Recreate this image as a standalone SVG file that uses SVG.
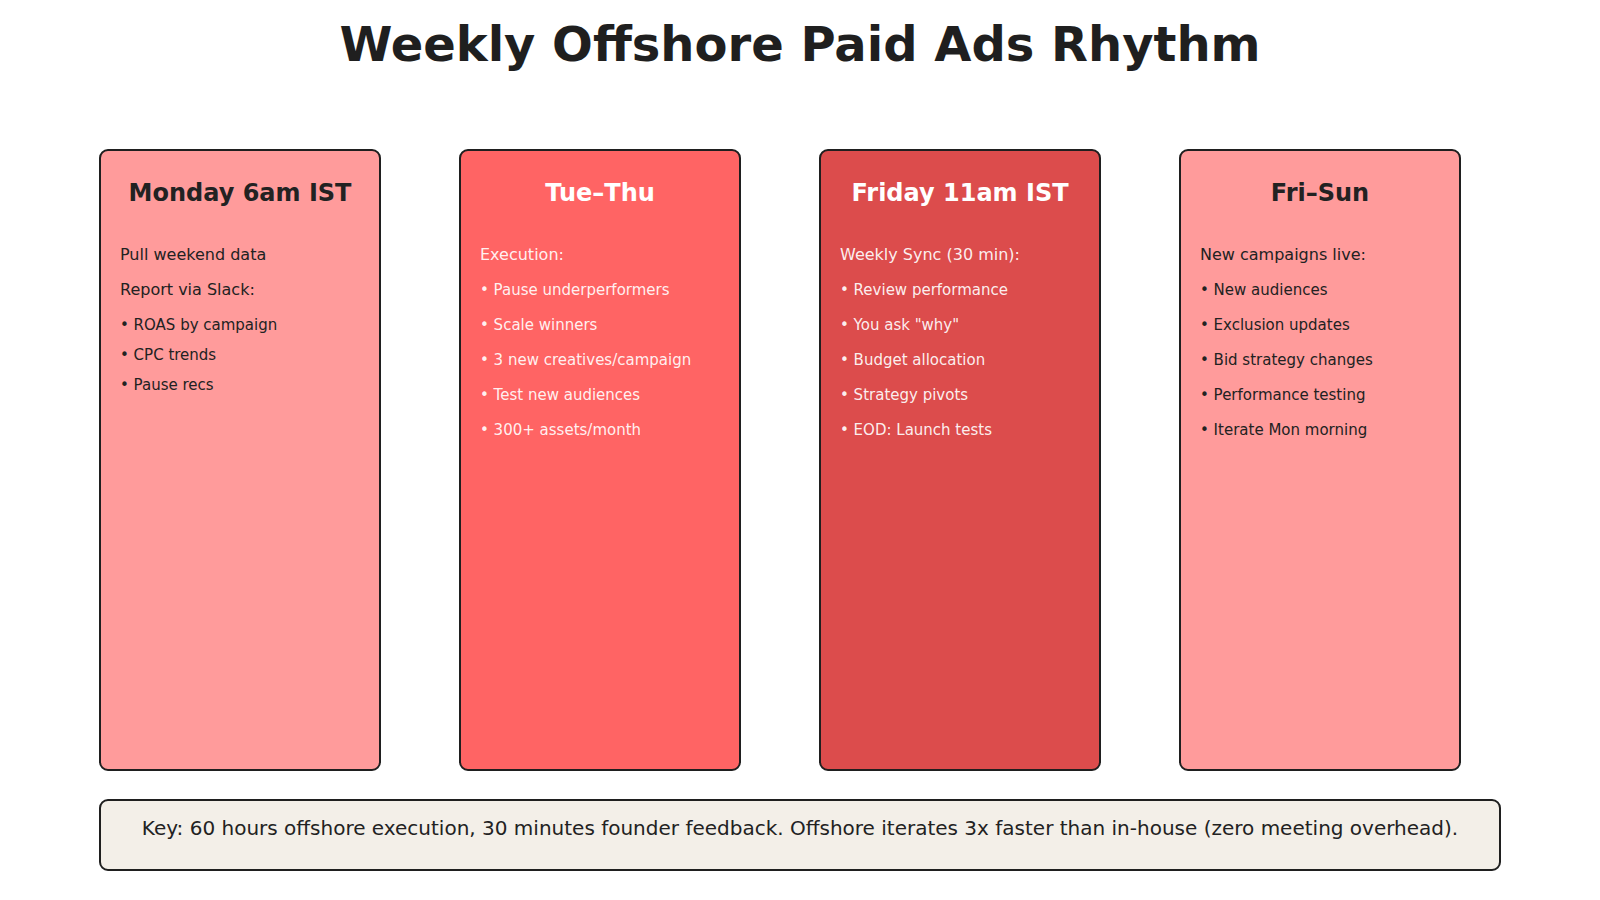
<svg xmlns="http://www.w3.org/2000/svg" width="1600" height="900" viewBox="0 0 1600 900">
<style>
text{font-family:"DejaVu Sans","Liberation Sans",sans-serif}
.title{font-size:48px;font-weight:bold;fill:#1f1f1f;text-anchor:middle}
.card{stroke:#1f1f1f;stroke-width:2}
.hd{font-size:24px;font-weight:bold;text-anchor:middle}
.lead{font-size:16px}
.bul{font-size:15px}
.dark{fill:#222222}
.light{fill:#ffffff}
.lightb{fill:#ffffff;fill-opacity:0.92}
.key{font-size:20px;fill:#222222;text-anchor:middle}
</style>
<rect width="1600" height="900" fill="#ffffff"/>
<text class="title" x="800" y="61">Weekly Offshore Paid Ads Rhythm</text>
<g id="connectors"></g>
<g id="monday">
<rect class="card" x="100" y="150" width="280" height="620" rx="8" fill="#ff9b9b"/>
<text class="hd dark" x="240" y="201">Monday 6am IST</text>
<text class="lead dark" x="120" y="260">Pull weekend data</text>
<text class="lead dark" x="120" y="295">Report via Slack:</text>
<text class="bul dark" x="120" y="330">• ROAS by campaign</text>
<text class="bul dark" x="120" y="360">• CPC trends</text>
<text class="bul dark" x="120" y="390">• Pause recs</text>
</g>
<g id="tuethu">
<rect class="card" x="460" y="150" width="280" height="620" rx="8" fill="#ff6464"/>
<text class="hd light" x="600" y="201">Tue–Thu</text>
<text class="lead lightb" x="480" y="260">Execution:</text>
<text class="bul lightb" x="480" y="295">• Pause underperformers</text>
<text class="bul lightb" x="480" y="330">• Scale winners</text>
<text class="bul lightb" x="480" y="365">• 3 new creatives/campaign</text>
<text class="bul lightb" x="480" y="400">• Test new audiences</text>
<text class="bul lightb" x="480" y="435">• 300+ assets/month</text>
</g>
<g id="friday">
<rect class="card" x="820" y="150" width="280" height="620" rx="8" fill="#dc4c4c"/>
<text class="hd light" x="960" y="201">Friday 11am IST</text>
<text class="lead lightb" x="840" y="260">Weekly Sync (30 min):</text>
<text class="bul lightb" x="840" y="295">• Review performance</text>
<text class="bul lightb" x="840" y="330">• You ask "why"</text>
<text class="bul lightb" x="840" y="365">• Budget allocation</text>
<text class="bul lightb" x="840" y="400">• Strategy pivots</text>
<text class="bul lightb" x="840" y="435">• EOD: Launch tests</text>
</g>
<g id="frisun">
<rect class="card" x="1180" y="150" width="280" height="620" rx="8" fill="#ff9b9b"/>
<text class="hd dark" x="1320" y="201">Fri–Sun</text>
<text class="lead dark" x="1200" y="260">New campaigns live:</text>
<text class="bul dark" x="1200" y="295">• New audiences</text>
<text class="bul dark" x="1200" y="330">• Exclusion updates</text>
<text class="bul dark" x="1200" y="365">• Bid strategy changes</text>
<text class="bul dark" x="1200" y="400">• Performance testing</text>
<text class="bul dark" x="1200" y="435">• Iterate Mon morning</text>
</g>
<g id="key">
<rect class="card" x="100" y="800" width="1400" height="70" rx="8" fill="#f3efe8"/>
<text class="key" x="800" y="835">Key: 60 hours offshore execution, 30 minutes founder feedback. Offshore iterates 3x faster than in-house (zero meeting overhead).</text>
</g>
</svg>
